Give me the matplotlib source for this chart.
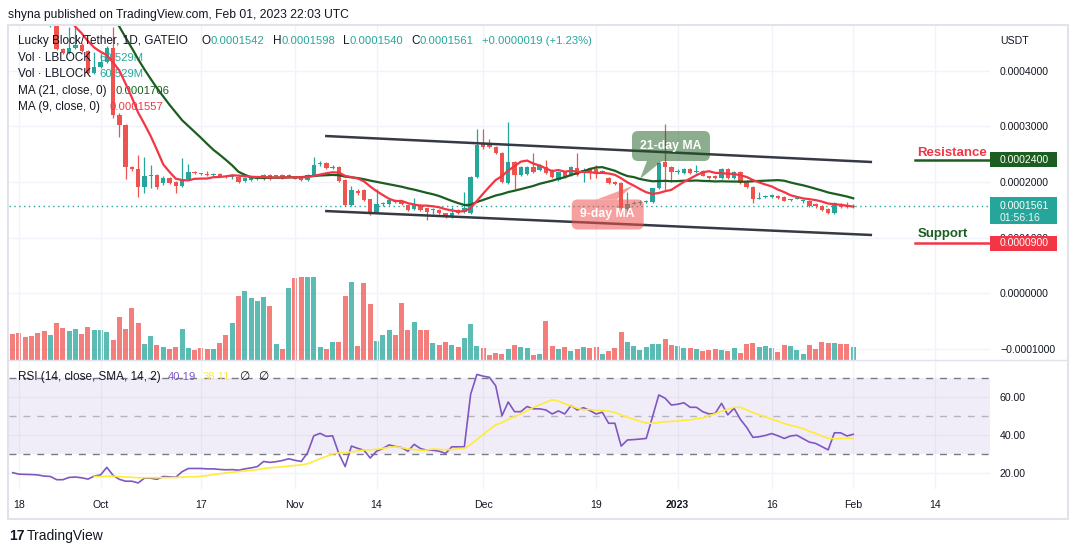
import numpy as np
import pandas as pd
import matplotlib
matplotlib.use("Agg")
import matplotlib.pyplot as plt
import matplotlib.transforms as mtransforms
from matplotlib.patches import Rectangle, FancyBboxPatch, Polygon
from matplotlib.lines import Line2D

plt.rcParams['font.family'] = ['Liberation Sans', 'DejaVu Sans']

# prices below are written in units of 1e-7 USDT
SCALE = 1e-7

# closes before the first bar on screen, only feed the moving averages
pre_closes = [7000, 6800, 6600, 6400, 6250, 6100]

# daily LBLOCK/USDT candles, bar 0 = Sep 17 2022 ... bar 134 = Feb 1 2023
opens = [6100, 5950, 5734, 5400, 5250, 5100, 4850, 4950, 4397, 4325,
         4415, 4469, 4361, 3964, 4072, 4162, 4415, 3200, 3027, 2270,
         2234, 1910, 2108, 2120, 1982, 2072, 2000, 1928, 2054, 2180,
         2162, 2150, 2120, 2144, 2108, 2090, 2090, 2018, 2036, 2054,
         2054, 2126, 2100, 2126, 2100, 2090, 2090, 2036, 2126, 2330,
         2342, 2260, 2270, 2036, 1586, 1838, 1856, 1694, 1459, 1595,
         1604, 1676, 1640, 1586, 1514, 1586, 1532, 1490, 1495, 1441,
         1369, 1495, 1459, 1441, 2090, 2703, 2685, 2631, 2523, 1982,
         2360, 2126, 2150, 2270, 2216, 2270, 2216, 2036, 2180, 2126,
         2252, 2200, 2252, 2230, 2180, 2072, 2000, 1982, 1514, 1610,
         1620, 1640, 1640, 1892, 2360, 2270, 2180, 2162, 2234, 2180,
         2198, 2108, 2108, 2072, 2234, 2072, 2180, 2000, 1910, 1700,
         1722, 1730, 1748, 1730, 1670, 1700, 1660, 1664, 1604, 1568,
         1520, 1441, 1604, 1580, 1542]
highs = [6200, 6000, 5800, 5450, 5300, 5150, 5050, 5000, 4420, 4800,
         4900, 4500, 4380, 4350, 4300, 4450, 4800, 3250, 3050, 2290,
         2487, 2450, 2300, 2150, 2100, 2090, 2010, 2432, 2324, 2200,
         2170, 2190, 2160, 2160, 2120, 2140, 2100, 2090, 2100, 2110,
         2140, 2140, 2130, 2140, 2150, 2100, 2100, 2140, 2450, 2380,
         2360, 2300, 2290, 2050, 1928, 1870, 1870, 1700, 1874, 1640,
         1690, 1690, 1650, 1600, 1712, 1600, 1540, 1530, 1510, 1450,
         1550, 1510, 1820, 2100, 2950, 2950, 2780, 2640, 2540, 3081,
         2370, 2290, 2290, 2523, 2320, 2400, 2230, 2200, 2200, 2290,
         2523, 2260, 2270, 2300, 2220, 2090, 2010, 2000, 1820, 1660,
         1670, 1680, 1900, 2360, 3045, 2290, 2230, 2250, 2250, 2300,
         2210, 2110, 2120, 2250, 2250, 2200, 2200, 2030, 1920, 1820,
         1760, 1780, 1760, 1740, 1700, 1740, 1700, 1680, 1620, 1580,
         1530, 1640, 1620, 1640, 1598]
lows = [5900, 5700, 5350, 5200, 5050, 4820, 4800, 4380, 4300, 4310,
        4400, 4340, 3940, 3950, 4050, 4150, 3150, 2811, 2054, 2200,
        1730, 1802, 1900, 1880, 1950, 1960, 1802, 1910, 2040, 2140,
        2130, 2100, 2090, 2100, 2070, 2060, 1990, 2000, 2020, 2040,
        2040, 2040, 2080, 2060, 2080, 2050, 2020, 2020, 2110, 2290,
        2240, 2240, 2000, 1570, 1570, 1760, 1660, 1405, 1440, 1570,
        1590, 1630, 1590, 1480, 1500, 1480, 1315, 1420, 1430, 1350,
        1360, 1430, 1440, 1420, 2070, 2600, 2610, 2500, 1990, 1970,
        1874, 2110, 2130, 2170, 2200, 2150, 2080, 2020, 2080, 2110,
        2110, 2000, 2050, 2080, 2160, 1970, 1950, 1520, 1500, 1600,
        1580, 1620, 1630, 1880, 1856, 2000, 2150, 2150, 2150, 2160,
        2100, 2060, 2060, 2060, 2060, 2060, 1970, 1900, 1622, 1690,
        1710, 1720, 1700, 1650, 1650, 1690, 1620, 1550, 1540, 1480,
        1420, 1430, 1540, 1530, 1540]
closes = [5950, 5734, 5400, 5250, 5100, 4850, 4950, 4397, 4325, 4415,
          4469, 4361, 3964, 4072, 4162, 4415, 3200, 3027, 2270, 2234,
          1910, 2108, 2120, 1910, 2072, 1982, 1928, 2054, 2180, 2162,
          2144, 2126, 2130, 2108, 2085, 2100, 2000, 2072, 2090, 2098,
          2126, 2054, 2108, 2072, 2110, 2060, 2036, 2126, 2306, 2342,
          2252, 2275, 2018, 1586, 1856, 1802, 1676, 1459, 1604, 1610,
          1676, 1640, 1604, 1495, 1586, 1495, 1459, 1500, 1441, 1369,
          1441, 1441, 1532, 2090, 2667, 2631, 2631, 2523, 2000, 2360,
          2126, 2270, 2270, 2180, 2306, 2162, 2090, 2180, 2090, 2270,
          2126, 2216, 2162, 2162, 2190, 1982, 1964, 1532, 1604, 1622,
          1630, 1650, 1892, 2342, 2270, 2180, 2190, 2234, 2162, 2190,
          2108, 2072, 2072, 2234, 2072, 2180, 1982, 1910, 1694, 1712,
          1734, 1766, 1712, 1664, 1680, 1712, 1670, 1568, 1560, 1495,
          1441, 1622, 1550, 1542, 1561]
# volume in millions of LBLOCK
volume_m = [124.3, 127.4, 108.3, 113.1, 127.4, 137.0, 117.9, 175.2, 151.3, 137.0,
            146.6, 122.7, 156.1, 141.8, 141.8, 132.2, 94.0, 203.9, 146.6, 246.9,
            175.2, 74.9, 113.1, 70.1, 60.5, 51.0, 60.5, 146.6, 55.8, 46.2,
            55.8, 51.0, 51.0, 79.7, 117.9, 175.2, 304.3, 328.2, 294.7, 280.4,
            299.5, 256.5, 74.9, 51.0, 342.5, 390.3, 395.1, 395.1, 395.1, 60.5,
            51.0, 84.4, 84.4, 304.3, 371.2, 65.3, 366.4, 266.0, 89.2, 117.9,
            141.8, 117.9, 270.8, 141.8, 180.0, 141.8, 141.8, 79.7, 70.1, 84.4,
            70.1, 60.5, 103.5, 170.5, 65.3, 55.8, 22.3, 31.9, 27.1, 51.0,
            70.1, 60.5, 55.8, 22.3, 27.1, 184.8, 65.3, 51.0, 60.5, 41.4,
            51.0, 60.5, 55.8, 60.5, 27.1, 41.4, 55.8, 132.2, 84.4, 65.3,
            46.2, 60.5, 74.9, 74.9, 98.8, 70.1, 65.3, 55.8, 55.8, 51.0,
            41.4, 46.2, 51.0, 46.2, 41.4, 55.8, 31.9, 74.9, 79.7, 60.5,
            65.3, 55.8, 36.6, 70.1, 65.3, 46.2, 27.1, 70.1, 51.0, 84.4,
            79.7, 79.7, 74.9, 74.9, 60.529]
rsi_values = [20.0, 19.2, 19.1, 19.0, 18.8, 18.2, 18.0, 16.3, 16.3, 17.5,
              17.7, 17.3, 16.6, 18.2, 18.8, 22.8, 18.6, 16.5, 15.5, 15.5,
              14.6, 17.1, 17.1, 16.5, 18.0, 17.8, 17.6, 20.5, 22.2, 22.2,
              22.2, 22.0, 22.0, 21.7, 21.5, 21.6, 21.3, 22.0, 22.5, 23.2,
              25.9, 25.4, 25.8, 26.4, 27.3, 26.5, 25.9, 30.4, 39.4, 40.7,
              39.1, 39.4, 30.0, 23.2, 34.0, 32.8, 31.8, 27.7, 31.3, 32.7,
              34.6, 33.8, 33.2, 31.3, 34.9, 32.7, 31.8, 31.8, 31.3, 30.1,
              33.6, 33.6, 33.6, 61.2, 71.7, 70.8, 70.2, 65.7, 50.0, 57.2,
              52.1, 52.1, 54.8, 53.6, 53.6, 53.0, 50.9, 52.5, 50.9, 55.3,
              53.0, 54.2, 52.7, 50.9, 51.8, 46.0, 46.0, 34.0, 37.2, 37.4,
              37.7, 38.0, 49.5, 60.9, 59.2, 55.6, 56.0, 56.8, 54.4, 54.4,
              52.1, 50.9, 51.2, 56.5, 50.4, 53.9, 48.1, 43.9, 38.6, 38.9,
              39.6, 40.6, 39.4, 38.0, 39.3, 39.7, 37.9, 36.1, 35.4, 33.7,
              32.0, 41.0, 40.95, 39.3, 40.19]

date_ticks = [1, 14, 30, 45, 58, 75, 93, 106, 121, 134, 147]
date_labels = ["18", "Oct", "17", "Nov", "14", "Dec", "19", "2023", "16", "Feb", "14"]
price_ticks = [0.0004, 0.0003, 0.0002, 0.0001, 0.0, -0.0001]
rsi_ticks = [20, 40, 60]

# hand drawn channel and levels (bar index, price in 1e-7)
channel_x = [49.8, 137.0]
channel_top = [2829, 2360]
channel_bottom = [1477, 1045]
resistance = 2400
support = 900
level_start = 143.9

TEAL = '#26a69a'
RED = '#ef5350'
MA_RED = '#f23645'
MA_GREEN = '#1b5e20'
PURPLE = '#7e57c2'
YELLOW = '#ffeb3b'
GRID = '#f0f3fa'
TEXT = '#131722'
BORDER = '#e0e3eb'
FS = 8.5
NUM_FS = 8.1
AX_FS = 7.6

W, H, DPI = 1078, 554, 100

o = np.array(opens) * SCALE
h = np.array(highs) * SCALE
l = np.array(lows) * SCALE
c = np.array(closes) * SCALE
vol = np.array(volume_m)
x = np.arange(len(c))
up = c >= o
colors = np.where(up, TEAL, RED)

all_closes = pd.Series(pre_closes + closes, dtype=float) * SCALE
ma9 = all_closes.rolling(9).mean().to_numpy()[len(pre_closes):]
ma21 = all_closes.rolling(21).mean().to_numpy()[len(pre_closes):]
rsi = np.array(rsi_values)
rsi_ma = pd.Series(rsi).rolling(14).mean().to_numpy()

fig = plt.figure(figsize=(W / DPI, H / DPI), dpi=DPI)
fig.patch.set_facecolor('white')


def box(x0, y0, x1, y1):
    """pixel box (top-left origin) -> figure fraction rect"""
    return [x0 / W, 1 - y1 / H, (x1 - x0) / W, (y1 - y0) / H]


vol_ax = fig.add_axes(box(9, 26, 990, 360))
ax = fig.add_axes(box(9, 26, 990, 360), sharex=vol_ax)
rsi_ax = fig.add_axes(box(9, 360, 990, 489), sharex=vol_ax)
vol_ax.set_zorder(1)
ax.set_zorder(2)
ax.patch.set_visible(False)

xmin, xmax = -0.59, 155.8
ymin, ymax = -0.00012072, 0.00048108
pane_px = 334
price_per_px = (ymax - ymin) / pane_px
ax.set_xlim(xmin, xmax)
ax.set_ylim(ymin, ymax)
vol_ax.set_ylim(0, vol.max() * pane_px / 82.7)
rsi_ax.set_ylim(11.4, 79.3)

for a in (vol_ax, ax, rsi_ax):
    for s in a.spines.values():
        s.set_visible(False)

# grid
vol_ax.set_xticks(date_ticks)
vol_ax.grid(axis='x', color=GRID, lw=1)
vol_ax.tick_params(axis='both', length=0, labelbottom=False, labelleft=False)
hgrid = mtransforms.blended_transform_factory(vol_ax.transAxes, ax.transData)
for p in price_ticks:
    vol_ax.plot([0, 1], [p, p], transform=hgrid, color=GRID, lw=1, zorder=0)

# volume
vol_ax.bar(x, vol, width=0.8, color=colors, alpha=0.75, lw=0)

# candles
ax.vlines(x, l, h, colors=colors, lw=0.9, zorder=3)
body = np.maximum(np.abs(c - o), price_per_px)
ax.bar(x, body, bottom=np.minimum(o, c), width=0.7, color=colors, lw=0, zorder=3)

# moving averages
ax.plot(x, ma21, color=MA_GREEN, lw=1.6, zorder=4)
ax.plot(x, ma9, color=MA_RED, lw=1.6, zorder=4)

# channel
ax.plot(channel_x, np.array(channel_top) * SCALE, color='#363a45', lw=1.8, zorder=4,
        solid_capstyle='butt')
ax.plot(channel_x, np.array(channel_bottom) * SCALE, color='#363a45', lw=1.8, zorder=4,
        solid_capstyle='butt')

# last price line
ax.axhline(c[-1], color=TEAL, lw=1, ls=(0, (1, 2.5)), zorder=2)

# resistance / support
res_p, sup_p = resistance * SCALE, support * SCALE
ax.plot([level_start, xmax], [res_p, res_p], color=MA_GREEN, lw=1.8, zorder=4)
ax.plot([level_start, xmax], [sup_p, sup_p], color=MA_RED, lw=1.8, zorder=4)
ax.annotate("Resistance", xy=(level_start, res_p), xytext=(2, 4), textcoords='offset pixels',
            color=MA_RED, fontsize=9.5, fontweight='bold', va='baseline', ha='left')
ax.annotate("Support", xy=(level_start, sup_p), xytext=(2, 6), textcoords='offset pixels',
            color=MA_GREEN, fontsize=9.5, fontweight='bold', va='baseline', ha='left')


# callouts
def callout(bar, value, label, face, alpha, box_px, base_px):
    anchor = mtransforms.ScaledTranslation(bar, value, ax.transData)
    x0, y0, x1, y1 = box_px
    ax.add_patch(FancyBboxPatch((x0, y0), x1 - x0, y1 - y0,
                                boxstyle='round,pad=0,rounding_size=6', transform=anchor,
                                fc=face, ec='none', alpha=alpha, zorder=5))
    bx0, bx1, by = base_px
    ax.add_patch(Polygon([(bx0, by), (bx1, by), (0, 0)], closed=True, transform=anchor,
                         fc=face, ec='none', alpha=alpha, zorder=5))
    ax.text((x0 + x1) / 2, (y0 + y1) / 2, label, transform=anchor, color='white',
            fontsize=8.8, fontweight='bold', ha='center', va='center', zorder=6)


callout(100, ma21[100], "21-day MA", MA_GREEN, 0.5, (-8, 18, 70, 48), (7, 22, 18))
callout(99, ma9[99], "9-day MA", RED, 0.55, (-62, -44, 10, -14), (-37, -17, -14))

# price axis
ax.yaxis.tick_right()
ax.set_yticks(price_ticks)
ax.set_yticklabels([f"{p:.7f}".replace('-', '\u2212') for p in price_ticks])
ax.tick_params(axis='y', length=0, pad=7.2, labelsize=AX_FS, labelcolor=TEXT)
ax.tick_params(axis='x', length=0, labelbottom=False)

right = mtransforms.blended_transform_factory(ax.transAxes, ax.transData)


def tag(price, face, label, sub=None):
    anchor = mtransforms.ScaledTranslation(1.0, price, right)
    top, bottom = (9.5, -17.5) if sub else (7.5, -7.5)
    ax.add_patch(Rectangle((0, bottom), 67, top - bottom, transform=anchor, fc=face,
                           ec='none', clip_on=False, zorder=6))
    ax.text(10, 0, label, transform=anchor, color='white', fontsize=AX_FS, va='center',
            ha='left', clip_on=False, zorder=7)
    if sub:
        ax.text(10, -11.5, sub, transform=anchor, color='white', alpha=0.9,
                fontsize=AX_FS, va='center', ha='left', clip_on=False, zorder=7)


tag(res_p, MA_GREEN, f"{res_p:.7f}")
tag(sup_p, MA_RED, f"{sup_p:.7f}")
tag(c[-1], TEAL, f"{c[-1]:.7f}", "01:56:16")

# RSI pane
rsi_ax.axhspan(30, 70, color=PURPLE, alpha=0.1, lw=0)
rsi_ax.axhline(70, color='#787b86', lw=1, ls=(0, (5, 5)))
rsi_ax.axhline(30, color='#787b86', lw=1, ls=(0, (5, 5)))
rsi_ax.axhline(50, color='#787b86', lw=1, ls=(0, (5, 5)), alpha=0.5)
rsi_ax.plot(x, rsi, color=PURPLE, lw=1.2)
rsi_ax.plot(x, rsi_ma, color=YELLOW, lw=1.2)
rsi_ax.yaxis.tick_right()
rsi_ax.set_yticks(rsi_ticks)
rsi_ax.set_yticklabels([f"{v:.2f}" for v in rsi_ticks])
rsi_ax.grid(color=GRID, lw=1)
rsi_ax.set_axisbelow(True)
rsi_ax.set_xticks(date_ticks)
rsi_ax.set_xticklabels(date_labels)
rsi_ax.tick_params(axis='y', length=0, pad=7.2, labelsize=AX_FS, labelcolor=TEXT)
rsi_ax.tick_params(axis='x', length=0, pad=8, labelsize=AX_FS, labelcolor=TEXT)
rsi_ax.get_xticklabels()[date_labels.index("2023")].set_fontweight('bold')


# legends: each part is (text, colour, gap in px, font size)
def text_row(host, x_px, y_px, parts):
    txt, color, _, size = parts[0]
    prev = fig.text(x_px / W, 1 - y_px / H, txt, color=color, fontsize=size,
                    va='center', ha='left')
    for txt, color, gap, size in parts[1:]:
        prev = host.annotate(txt, xy=(1, 0.5), xycoords=prev, xytext=(gap, 0),
                             textcoords='offset pixels', color=color, fontsize=size,
                             va='center', ha='left', annotation_clip=False)


chg = c[-1] - c[-2]
text_row(ax, 18, 41, [
    ("Lucky Block/Tether, 1D, GATEIO", TEXT, 0, FS),
    ("O", TEXT, 14, FS), (f"{o[-1]:.7f}", TEAL, 0, NUM_FS),
    ("H", TEXT, 8, FS), (f"{h[-1]:.7f}", TEAL, 0, NUM_FS),
    ("L", TEXT, 8, FS), (f"{l[-1]:.7f}", TEAL, 0, NUM_FS),
    ("C", TEXT, 8, FS), (f"{c[-1]:.7f}", TEAL, 0, NUM_FS),
    (f"{chg:+.7f} ({chg / c[-2] * 100:+.2f}%)", TEAL, 8, NUM_FS)])
text_row(ax, 18, 58, [("Vol \u00b7 LBLOCK", TEXT, 0, FS), (f"{vol[-1]:.3f}M", TEAL, 8, NUM_FS)])
text_row(ax, 18, 74, [("Vol \u00b7 LBLOCK", TEXT, 0, FS), (f"{vol[-1]:.3f}M", TEAL, 8, NUM_FS)])
text_row(ax, 18, 91, [("MA (21, close, 0)", TEXT, 0, FS),
                      (f"{ma21[-1]:.7f}", MA_GREEN, 9, NUM_FS)])
text_row(ax, 18, 107, [("MA (9, close, 0)", TEXT, 0, FS),
                       (f"{ma9[-1]:.7f}", MA_RED, 9, NUM_FS)])
text_row(rsi_ax, 18, 377, [("RSI (14, close, SMA, 14, 2)", TEXT, 0, FS),
                           (f"{rsi[-1]:.2f}", PURPLE, 7, NUM_FS),
                           (f"{rsi_ma[-1]:.2f}", YELLOW, 7, NUM_FS),
                           ("\u2205", TEXT, 9, FS), ("\u2205", TEXT, 8, FS)])

fig.text(1000 / W, 1 - 41 / H, "USDT", color=TEXT, fontsize=AX_FS, va='center', ha='left')
fig.text(8 / W, 1 - 15 / H, "shyna published on TradingView.com, Feb 01, 2023 22:03 UTC",
         color=TEXT, fontsize=8.7, va='center', ha='left')
fig.text(9 / W, 1 - 536 / H, "17", color=TEXT, fontsize=10, fontweight='heavy',
         va='center', ha='left')
fig.text(27 / W, 1 - 536 / H, "TradingView", color=TEXT, fontsize=10, va='center', ha='left')

# frame and pane separator
fig.add_artist(Rectangle((8 / W, 1 - 519 / H), 1060 / W, 494 / H, transform=fig.transFigure,
                         fill=False, ec=BORDER, lw=1.5))
fig.add_artist(Line2D([8 / W, 1068 / W], [1 - 360 / H] * 2, transform=fig.transFigure,
                      color=BORDER, lw=1))

fig.savefig('out.png', dpi=DPI, facecolor='white')
